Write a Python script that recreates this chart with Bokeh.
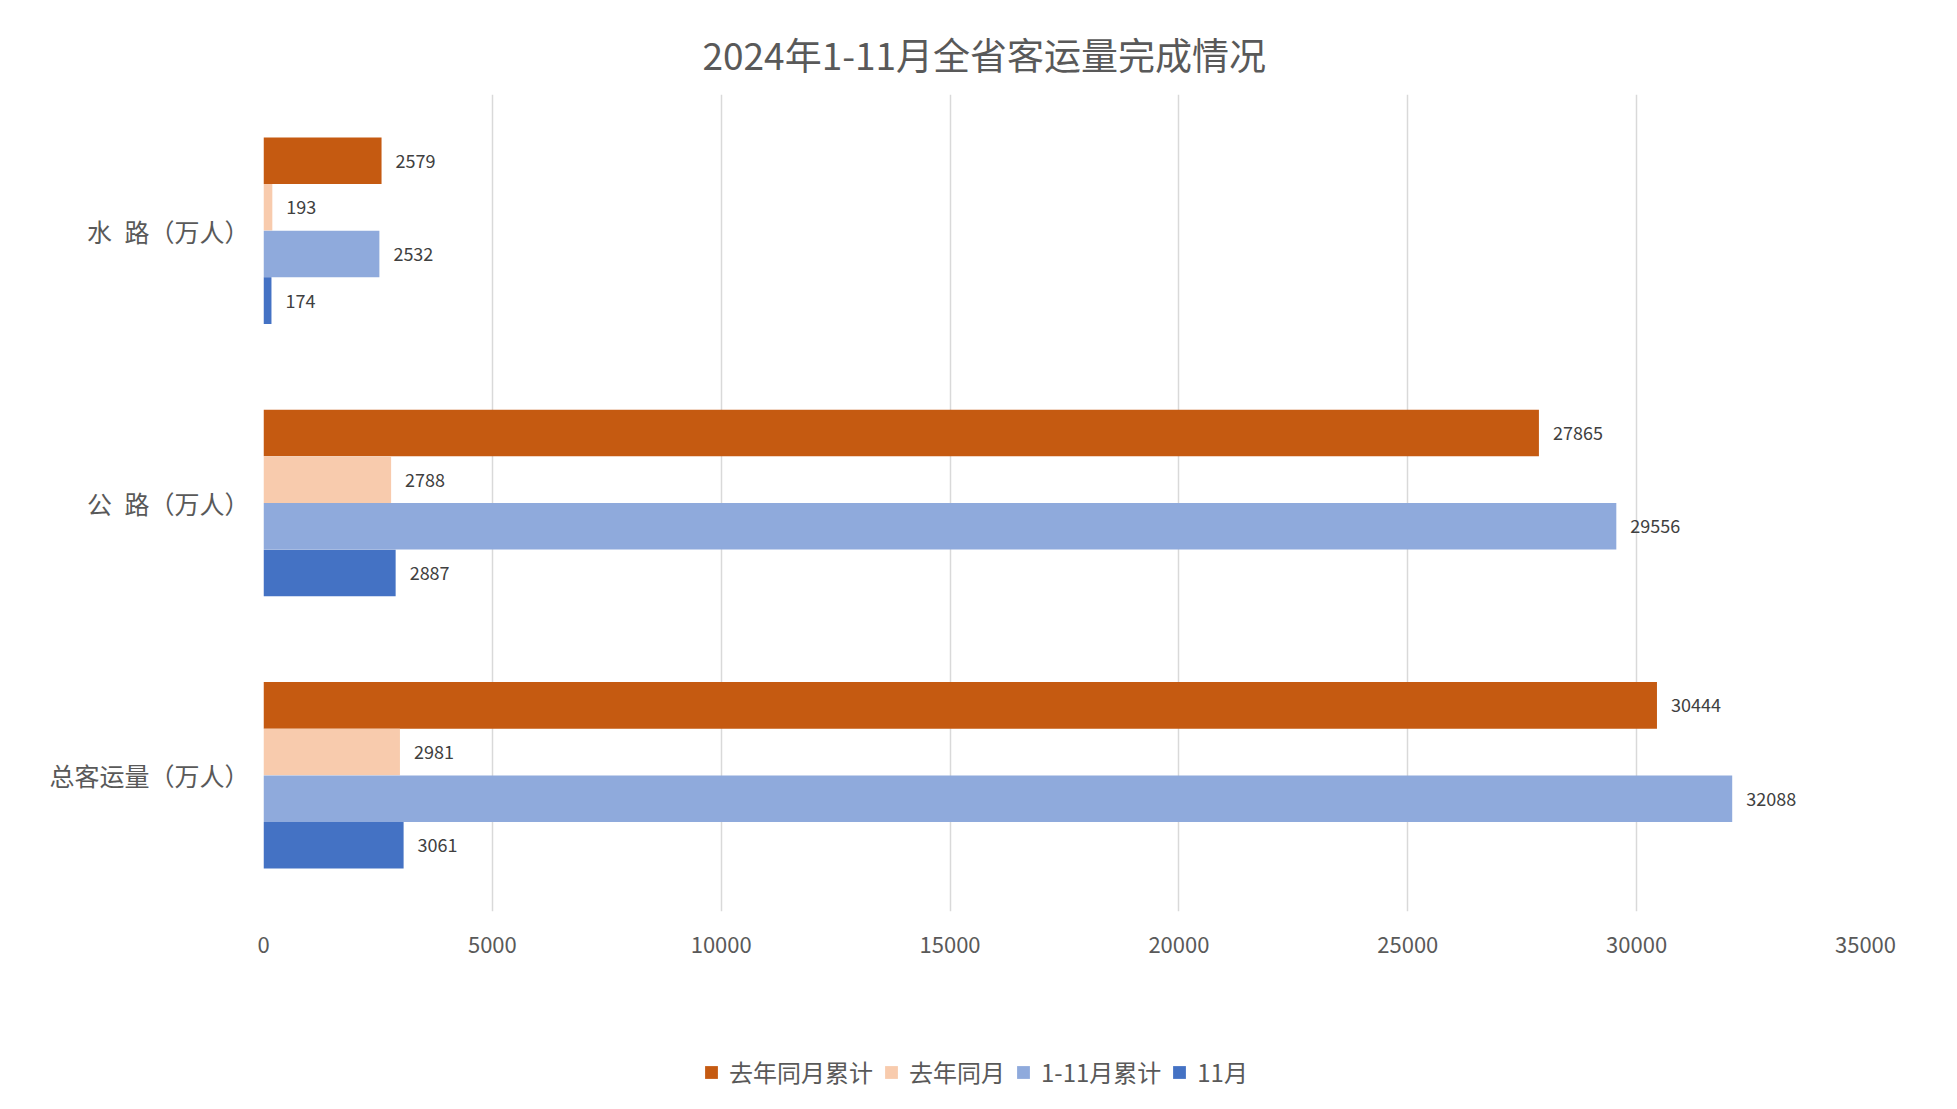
from bokeh.plotting import figure
from bokeh.layouts import column
from bokeh.models import ColumnDataSource, Range1d, FactorRange, Legend, LegendItem, FixedTicker
from bokeh.transform import dodge
from bokeh.core.properties import value
from bokeh.embed import file_html
from bokeh.resources import INLINE

# data, top to bottom as in the chart
categories = ["水\u2002路（万人）", "公\u2002路（万人）", "总客运量（万人）"]
series_names = ["去年同月累计", "去年同月", "1-11月累计", "11月"]
last_year_cum = [2579, 27865, 30444]
last_year_month = [193, 2788, 2981]
cum_1_11 = [2532, 29556, 32088]
november = [174, 2887, 3061]
x_ticks = [0, 5000, 10000, 15000, 20000, 25000, 30000, 35000]

colors = ["#C55A11", "#F8CBAD", "#8FAADC", "#4472C4"]
FONT = "Noto Sans CJK SC"
TEXT = "#595959"

src = ColumnDataSource(dict(
    cat=categories,
    s0=last_year_cum, s1=last_year_month, s2=cum_1_11, s3=november,
    t0=[str(v) for v in last_year_cum], t1=[str(v) for v in last_year_month],
    t2=[str(v) for v in cum_1_11], t3=[str(v) for v in november],
))

p = figure(width=1940, height=980, output_backend="svg", toolbar_location=None,
           y_range=FactorRange(*reversed(categories)), x_range=Range1d(0, 35000),
           min_border_left=263, min_border_right=75, min_border_top=94, min_border_bottom=69,
           title="2024年1-11月全省客运量完成情况")
p.title.align = "left"
p.title.offset = 439
p.title.text_font = FONT
p.title.text_font_size = "37px"
p.title.text_font_style = "normal"
p.title.text_color = TEXT
p.title.standoff = 27
p.outline_line_color = None

bar_h = 0.171
offsets = [0.257, 0.0857, -0.0857, -0.257]
for i, name in enumerate(series_names):
    y = dodge("cat", offsets[i], range=p.y_range)
    p.hbar(y=y, right="s%d" % i, left=0, height=bar_h, source=src,
           fill_color=colors[i], line_color=None)
    p.text(x="s%d" % i, y=y, text="t%d" % i, source=src, x_offset=14,
           text_baseline="middle", text_align="left", text_font=value(FONT),
           text_font_size="18px", text_color="#404040")

p.xaxis.ticker = FixedTicker(ticks=x_ticks)
p.xaxis.axis_line_color = None
p.xaxis.major_tick_line_color = None
p.xaxis.minor_tick_line_color = None
p.xaxis.major_tick_out = 0
p.xaxis.major_label_standoff = 25
p.xaxis.major_label_text_font = FONT
p.xaxis.major_label_text_font_size = "22px"
p.xaxis.major_label_text_color = TEXT

p.yaxis.axis_line_color = None
p.yaxis.major_tick_line_color = None
p.yaxis.major_tick_out = 0
p.yaxis.major_label_standoff = 14
p.yaxis.major_label_text_font = FONT
p.yaxis.major_label_text_font_size = "25px"
p.yaxis.major_label_text_color = TEXT

p.xgrid.grid_line_color = "#D9D9D9"
p.xgrid.grid_line_width = 1.5
p.ygrid.grid_line_color = None

# legend strip below the chart; its zero-height bars only feed the legend swatches
lg = figure(width=1940, height=110, output_backend="svg", toolbar_location=None,
            x_range=Range1d(0, 35000), y_range=FactorRange(*categories),
            x_axis_type=None, y_axis_type=None, min_border=0)
lg.outline_line_color = None
lg.grid.grid_line_color = None
items = []
for i, name in enumerate(series_names):
    r = lg.hbar(y="cat", right="s%d" % i, left=0, height=0, source=src,
                fill_color=colors[i], line_color=None)
    items.append(LegendItem(label=name, renderers=[r]))

legend = Legend(items=items, orientation="horizontal", location=(440, 1),
                padding=0, margin=0, spacing=10, glyph_width=16, glyph_height=16,
                label_standoff=10, label_text_font=FONT, label_text_font_size="24px",
                label_text_color=TEXT, border_line_color=None, background_fill_alpha=0)
lg.add_layout(legend)

open("out.html", "w").write(file_html(column(p, lg, spacing=0), INLINE))
